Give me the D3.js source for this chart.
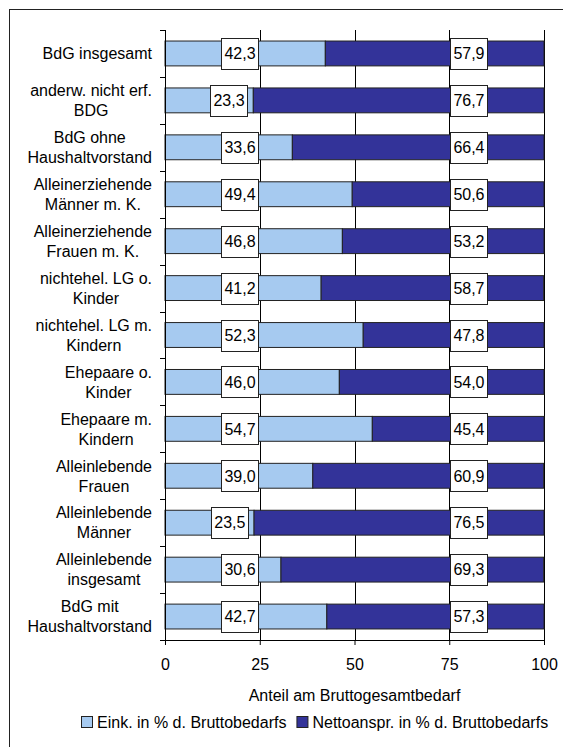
<!DOCTYPE html>
<html><head><meta charset="utf-8">
<script src="https://cdn.jsdelivr.net/npm/d3@7"></script>
<style>html,body{margin:0;padding:0;background:#fff;}svg{display:block;font-family:Arial,"Liberation Sans",sans-serif;}</style>
</head><body><svg id="c" width="563" height="747"></svg>
<script>
const categories = [
  ["BdG insgesamt"],
  ["anderw. nicht erf.", "BDG"],
  ["BdG ohne", "Haushaltvorstand"],
  ["Alleinerziehende", "Männer m. K."],
  ["Alleinerziehende", "Frauen m. K."],
  ["nichtehel. LG o.", "Kinder"],
  ["nichtehel. LG m.", "Kindern"],
  ["Ehepaare o.", "Kinder"],
  ["Ehepaare m.", "Kindern"],
  ["Alleinlebende", "Frauen"],
  ["Alleinlebende", "Männer"],
  ["Alleinlebende", "insgesamt"],
  ["BdG mit", "Haushaltvorstand"]
];
const eink = [42.3, 23.3, 33.6, 49.4, 46.8, 41.2, 52.3, 46.0, 54.7, 39.0, 23.5, 30.6, 42.7];
const netto = [57.9, 76.7, 66.4, 50.6, 53.2, 58.7, 47.8, 54.0, 45.4, 60.9, 76.5, 69.3, 57.3];
const xTicks = [0, 25, 50, 75, 100];
const seriesNames = ["Eink. in % d. Bruttobedarfs", "Nettoanspr. in % d. Bruttobedarfs"];
const axisTitle = "Anteil am Bruttogesamtbedarf";

const colors = ["#a6caf0", "#333399"];
const svg = d3.select("#c");
const FS = 16;

// outer frame
svg.append("rect").attr("x", 9.5).attr("y", 9.5).attr("width", 700).attr("height", 900)
  .attr("fill", "none").attr("stroke", "#222").attr("stroke-width", 1);

const L = 165, R = 544, T = 30, B = 640;
const x = d3.scaleLinear().domain([0, 100]).range([L, R]);
const idx = d3.range(categories.length);
const y = d3.scaleBand().domain(idx).range([T, B]).paddingInner(0.47).paddingOuter(0.235);

// gridlines
svg.append("g").selectAll("line").data(xTicks.slice(1)).join("line")
  .attr("x1", d => Math.round(x(d)) + 0.5).attr("x2", d => Math.round(x(d)) + 0.5)
  .attr("y1", T).attr("y2", B).attr("stroke", "#000").attr("stroke-width", 1);

// bars
const gb = svg.append("g");
gb.selectAll("rect.e").data(idx).join("rect").attr("class", "e")
  .attr("x", x(0)).attr("y", i => y(i)).attr("width", i => x(eink[i]) - x(0))
  .attr("height", y.bandwidth()).attr("fill", colors[0]).attr("stroke", "#222").attr("stroke-width", 1);
gb.selectAll("rect.n").data(idx).join("rect").attr("class", "n")
  .attr("x", i => x(eink[i])).attr("y", i => y(i))
  .attr("width", i => x(Math.min(100, eink[i] + netto[i])) - x(eink[i]))
  .attr("height", y.bandwidth()).attr("fill", colors[1]).attr("stroke", "#222").attr("stroke-width", 1);

// bottom axis
const xa = svg.append("g").attr("transform", `translate(0,${B})`)
  .call(d3.axisBottom(x).tickValues(xTicks).tickSize(5).tickPadding(14).tickFormat(d3.format("d")));
xa.select(".domain").attr("stroke", "#000");
xa.selectAll(".tick line").attr("stroke", "#000");
xa.selectAll("text").attr("font-size", FS).attr("font-family", "Arial, Liberation Sans").attr("fill", "#000");

// left axis with boundary ticks
svg.append("line").attr("x1", L + 0.5).attr("x2", L + 0.5).attr("y1", T).attr("y2", B).attr("stroke", "#000");
const bounds = d3.range(categories.length + 1).map(i => T + i * y.step());
svg.append("g").selectAll("line").data(bounds).join("line")
  .attr("x1", L - 5).attr("x2", L).attr("y1", d => Math.round(d) + 0.5).attr("y2", d => Math.round(d) + 0.5)
  .attr("stroke", "#000");

// category labels
const lineH = 20;
const gl = svg.append("g").attr("font-size", FS).attr("fill", "#000");
idx.forEach(i => {
  const lines = categories[i];
  const cy = y(i) + y.bandwidth() / 2;
  const g = gl.append("g");
  const texts = lines.map((s, k) => g.append("text").text(s)
    .attr("y", cy + (k - (lines.length - 1) / 2) * lineH).attr("dy", "0.36em"));
  const maxW = d3.max(texts, t => t.node().getComputedTextLength());
  const cx = 152 - maxW / 2;
  texts.forEach(t => t.attr("x", cx).attr("text-anchor", "middle"));
});

// value labels
const fmt = v => v.toFixed(1).replace(".", ",");
function valueLabel(val, pos, i) {
  const cy = y(i) + y.bandwidth() / 2;
  const g = svg.append("g");
  const t = g.append("text").text(fmt(val)).attr("x", x(pos)).attr("y", cy).attr("dy", "0.36em")
    .attr("text-anchor", "middle").attr("font-size", FS).attr("fill", "#000");
  const w = t.node().getComputedTextLength() + 6;
  g.insert("rect", "text").attr("x", Math.round(x(pos) - w / 2) + 0.5).attr("y", Math.round(cy - 15.5) + 0.5)
    .attr("width", Math.round(w)).attr("height", 31).attr("fill", "#fff").attr("stroke", "#222");
}
idx.forEach(i => {
  valueLabel(eink[i], Math.min(19.8, eink[i] - 6.4), i);
  valueLabel(netto[i], 80.2, i);
});

// axis title
svg.append("text").text(axisTitle).attr("x", (L + R) / 2).attr("y", 701)
  .attr("text-anchor", "middle").attr("font-size", FS).attr("fill", "#000");

// legend
const lg = svg.append("g").attr("font-size", FS);
let lx = 81;
seriesNames.forEach((s, k) => {
  lg.append("rect").attr("x", lx + 0.5).attr("y", 716.5).attr("width", 11).attr("height", 11)
    .attr("fill", colors[k]).attr("stroke", "#222");
  const t = lg.append("text").text(s).attr("x", lx + 16).attr("y", 728).attr("fill", "#000");
  lx += 16 + t.node().getComputedTextLength() + 10;
});
</script></body></html>
